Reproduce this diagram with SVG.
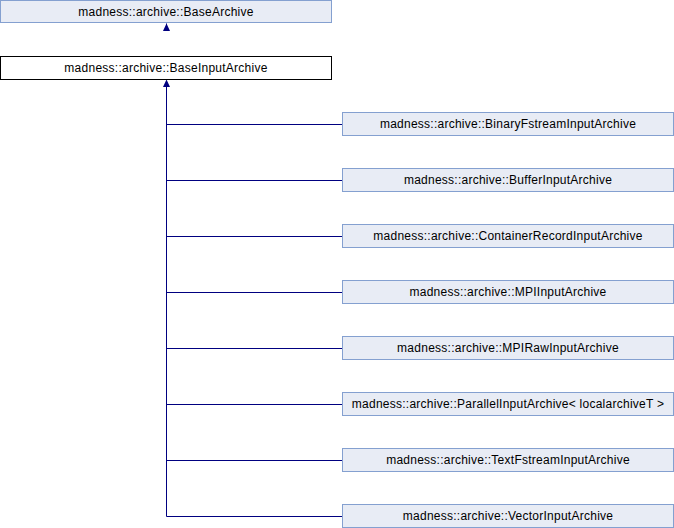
<svg xmlns="http://www.w3.org/2000/svg" width="674" height="528" viewBox="0 0 674 528">
<style>
.n rect{fill:#e8ecf5;stroke:#84a0d0;stroke-width:1}
.cur rect{fill:#ffffff;stroke:#000000;stroke-width:1}
text{font-family:"Liberation Sans",Arial,sans-serif;font-size:12px;letter-spacing:0.25px;fill:#000;text-anchor:middle}
.e{stroke:#000080;stroke-width:1;fill:none}
.ah{fill:#000080}
</style>
<rect width="674" height="528" fill="#ffffff"/>
<g id="connectors">
<path class="e" d="M166.5,31 V23.5"/>
<path class="ah" d="M166.5,23.5 L170,31 L163,31 Z"/>
<path class="e" d="M166.5,516.5 V87"/>
<path class="ah" d="M166.5,79.5 L170,87 L163,87 Z"/>
<path class="e" d="M166.5,124.5 H342"/>
<path class="e" d="M166.5,180.5 H342"/>
<path class="e" d="M166.5,236.5 H342"/>
<path class="e" d="M166.5,292.5 H342"/>
<path class="e" d="M166.5,348.5 H342"/>
<path class="e" d="M166.5,404.5 H342"/>
<path class="e" d="M166.5,460.5 H342"/>
<path class="e" d="M166.5,516.5 H342"/>
</g>
<g id="BaseArchive" class="n"><rect x="0.5" y="0.5" width="331" height="22"/><text x="166" y="15.5">madness::archive::BaseArchive</text></g>
<g id="BaseInputArchive" class="cur"><rect x="0.5" y="56.5" width="331" height="23"/><text x="166" y="72">madness::archive::BaseInputArchive</text></g>
<g id="BinaryFstreamInputArchive" class="n"><rect x="342.5" y="112.5" width="331" height="23"/><text x="508" y="128">madness::archive::BinaryFstreamInputArchive</text></g>
<g id="BufferInputArchive" class="n"><rect x="342.5" y="168.5" width="331" height="23"/><text x="508" y="184">madness::archive::BufferInputArchive</text></g>
<g id="ContainerRecordInputArchive" class="n"><rect x="342.5" y="224.5" width="331" height="23"/><text x="508" y="240">madness::archive::ContainerRecordInputArchive</text></g>
<g id="MPIInputArchive" class="n"><rect x="342.5" y="280.5" width="331" height="23"/><text x="508" y="296">madness::archive::MPIInputArchive</text></g>
<g id="MPIRawInputArchive" class="n"><rect x="342.5" y="336.5" width="331" height="23"/><text x="508" y="352">madness::archive::MPIRawInputArchive</text></g>
<g id="ParallelInputArchive" class="n"><rect x="342.5" y="392.5" width="331" height="23"/><text x="508" y="408">madness::archive::ParallelInputArchive&lt; localarchiveT &gt;</text></g>
<g id="TextFstreamInputArchive" class="n"><rect x="342.5" y="448.5" width="331" height="23"/><text x="508" y="464">madness::archive::TextFstreamInputArchive</text></g>
<g id="VectorInputArchive" class="n"><rect x="342.5" y="504.5" width="331" height="23"/><text x="508" y="520">madness::archive::VectorInputArchive</text></g>
</svg>
